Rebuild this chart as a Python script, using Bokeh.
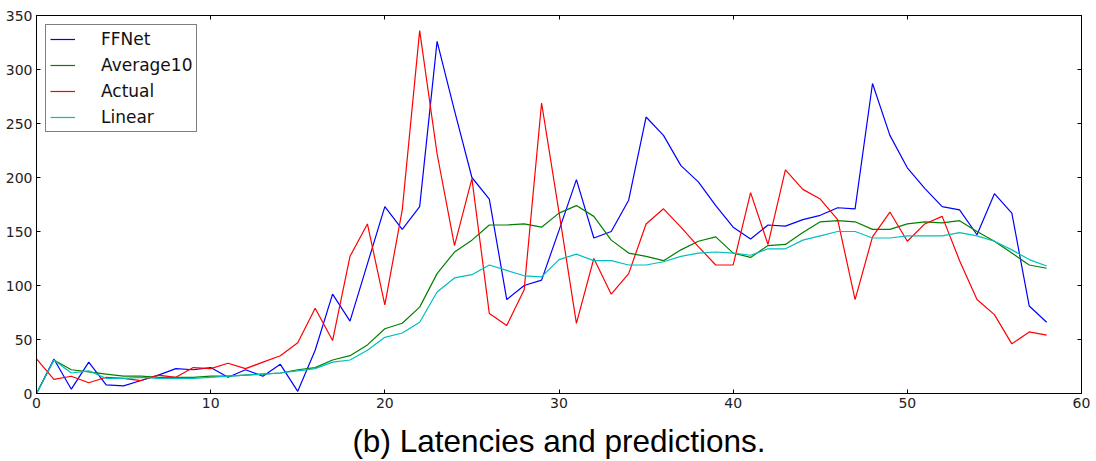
from bokeh.plotting import figure
from bokeh.models import Range1d, FixedTicker, LinearAxis, Legend, LegendItem
from bokeh.embed import file_html
from bokeh.resources import INLINE

x = list(range(59))
ffnet = [0, 32, 4, 29, 8, 7, 12, 17, 23, 22, 24, 15, 22, 16, 27, 2, 40, 92, 67, 120,
         173, 152, 173, 326, 262, 200, 180, 87, 100, 105, 151, 198, 144, 150, 179, 256,
         239, 211, 196, 174, 154, 143, 156, 155, 161, 165, 172, 171, 287, 239, 209, 190,
         173, 170, 147, 185, 167, 81, 66]
average10 = [0, 31, 22, 20, 18, 16, 16, 15, 15, 15, 16, 16, 17, 18, 19, 22, 24, 31, 35, 45,
             60, 65, 80, 111, 131, 142, 156, 156, 157, 154, 167, 174, 164, 142, 130, 127,
             123, 133, 141, 145, 130, 126, 137, 138, 149, 159, 160, 159, 152, 152, 157, 159,
             158, 160, 150, 141, 130, 119, 116]
actual = [32, 13, 16, 10, 15, 14, 12, 17, 15, 24, 23, 28, 23, 29, 35, 47, 79, 49, 127, 157,
          82, 170, 336, 222, 137, 199, 74, 63, 96, 269, 168, 65, 125, 92, 111, 157,
          171, 154, 136, 119, 119, 186, 138, 207, 189, 180, 161, 87, 145, 168, 141, 157,
          164, 123, 87, 73, 46, 57, 54]
linear = [0, 31, 19, 21, 14, 14, 15, 14, 14, 14, 15, 16, 17, 18, 19, 21, 23, 29, 31, 40,
          52, 56, 66, 94, 107, 110, 119, 114, 109, 108, 124, 129, 123, 123, 119, 119,
          122, 127, 130, 131, 130, 128, 134, 134, 142, 146, 150, 150, 144, 144, 146, 146,
          146, 149, 146, 141, 133, 124, 118]
names = ["FFNet", "Average10", "Actual", "Linear"]
x_ticks = [0, 10, 20, 30, 40, 50, 60]
y_ticks = [0, 50, 100, 150, 200, 250, 300, 350]
caption = "(b) Latencies and predictions."

p = figure(width=1096, height=461, output_backend="svg", toolbar_location=None,
           x_range=Range1d(0, 60), y_range=Range1d(0, 350),
           min_border_left=36, min_border_right=15, min_border_top=15, min_border_bottom=68)
p.xgrid.visible = False
p.ygrid.visible = False
p.outline_line_color = "black"
p.outline_line_width = 1
p.background_fill_color = "white"
p.border_fill_color = "white"

def style_axis(ax, ticks, show_labels=True):
    ax.ticker = FixedTicker(ticks=ticks)
    ax.major_tick_in = 4
    ax.major_tick_out = 0
    ax.minor_tick_line_color = None
    ax.axis_line_color = "black"
    ax.major_tick_line_color = "black"
    ax.major_label_text_font = "DejaVu Sans"
    ax.major_label_text_font_size = "14px"
    ax.major_label_text_color = "#222222"
    ax.major_label_standoff = 4
    if not show_labels:
        ax.major_label_overrides = {t: "" for t in ticks}
        ax.major_label_standoff = 0

bottom_ax = p.below[0]
left_ax = p.left[0]
style_axis(bottom_ax, x_ticks)
style_axis(left_ax, y_ticks)
top_ax = LinearAxis()
right_ax = LinearAxis()
style_axis(top_ax, x_ticks, False)
style_axis(right_ax, y_ticks, False)
p.add_layout(top_ax, "above")
p.add_layout(right_ax, "right")

# caption as the bottom axis label
bottom_ax.axis_label = caption
bottom_ax.axis_label_text_font = "Liberation Sans"
bottom_ax.axis_label_text_font_size = "31.5px"
bottom_ax.axis_label_text_font_style = "normal"
bottom_ax.axis_label_text_color = "black"
bottom_ax.axis_label_standoff = 12

colors = ["#0000ff", "#008000", "#ff0000", "#00bfbf"]
series = [ffnet, average10, actual, linear]
renderers = []
for s, c in zip(series, colors):
    r = p.line(x, s, line_color=c, line_width=1.2)
    renderers.append(r)

legend = Legend(items=[LegendItem(label=n, renderers=[r]) for n, r in zip(names, renderers)],
                location="top_left")
legend.margin = 9
legend.padding = 4
legend.spacing = 6
legend.glyph_width = 25
legend.glyph_height = 16
legend.label_height = 16
legend.label_standoff = 26
legend.label_text_font = "DejaVu Sans"
legend.label_text_font_size = "17px"
legend.label_text_color = "#111111"
legend.border_line_color = "black"
legend.border_line_width = 1
legend.background_fill_alpha = 1.0
p.add_layout(legend, "center")

open("out.html", "w").write(file_html(p, INLINE))
